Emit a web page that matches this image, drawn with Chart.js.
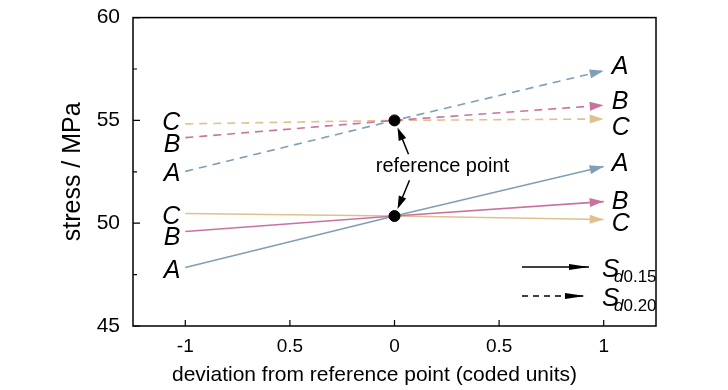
<!DOCTYPE html>
<html>
<head>
<meta charset="utf-8">
<script src="https://cdn.jsdelivr.net/npm/chart.js@4"></script>
<style>
  body { margin: 0; background: #fff; }
  canvas { display: block; }
</style>
</head>
<body>
<canvas id="stressChart" width="728" height="390"></canvas>
<script>
// Data
const xValues = [-1, 0, 1];
const seriesNames = ['A', 'B', 'C'];
const solidA = [47.85, 50.35, 52.76];
const solidB = [49.6, 50.35, 51.05];
const solidC = [50.47, 50.35, 50.18];
const dashedA = [52.52, 55.0, 57.42];
const dashedB = [54.16, 55.0, 55.74];
const dashedC = [54.83, 55.0, 55.07];
const refX = [0, 0];
const refY = [55.0, 50.35];
const xTickValues = [-1, -0.5, 0, 0.5, 1];
const xTickLabels = ['-1', '0.5', '0', '0.5', '1'];
const yTickValues = [45, 47.5, 50, 52.5, 55, 57.5, 60];
const legendLabels = ['0.15', '0.20'];
const xTitle = 'deviation from reference point (coded units)';

const FONT = '"Liberation Sans", Arial, sans-serif';
const colors = { A: '#7f9fb5', B: '#c8739f', C: '#e0c08e' };

// label nudges (px) so letters don't collide: [left, right]
const labelShift = {
  solidA: [4, -2], solidB: [7, 0], solidC: [4, 5],
  dashedA: [3, -4], dashedB: [7, -3], dashedC: [-1, 9]
};

function lineSet(key, name, values, dashed) {
  return {
    type: 'line',
    key: key,
    series: name,
    data: xValues.map((x, i) => ({ x: x, y: values[i] })),
    borderColor: colors[name],
    borderWidth: 1.6,
    borderDash: dashed ? [8, 6] : [],
    pointRadius: 0,
    fill: false,
    tension: 0,
    order: 1
  };
}

const datasets = [
  {
    type: 'scatter',
    data: refX.map((x, i) => ({ x: x, y: refY[i] })),
    pointRadius: 5.5,
    pointBackgroundColor: '#000',
    pointBorderColor: '#000',
    order: 0
  },
  lineSet('dashedA', 'A', dashedA, true),
  lineSet('dashedB', 'B', dashedB, true),
  lineSet('dashedC', 'C', dashedC, true),
  lineSet('solidA', 'A', solidA, false),
  lineSet('solidB', 'B', solidB, false),
  lineSet('solidC', 'C', solidC, false)
];

function arrowHead(ctx, fromX, fromY, tipX, tipY, len, half, color) {
  const ang = Math.atan2(tipY - fromY, tipX - fromX);
  ctx.fillStyle = color;
  ctx.beginPath();
  ctx.moveTo(tipX, tipY);
  ctx.lineTo(tipX - len * Math.cos(ang) + half * Math.sin(ang), tipY - len * Math.sin(ang) - half * Math.cos(ang));
  ctx.lineTo(tipX - len * Math.cos(ang) - half * Math.sin(ang), tipY - len * Math.sin(ang) + half * Math.cos(ang));
  ctx.closePath();
  ctx.fill();
}

const extras = {
  id: 'extras',
  afterDatasetsDraw(chart) {
    const { ctx, chartArea: a, scales: { x, y } } = chart;
    ctx.save();

    // frame + inward ticks
    ctx.strokeStyle = '#000';
    ctx.lineWidth = 1.5;
    ctx.setLineDash([]);
    ctx.strokeRect(a.left, a.top, a.right - a.left, a.bottom - a.top);
    ctx.lineWidth = 1.2;
    ctx.beginPath();
    yTickValues.forEach(v => {
      const py = y.getPixelForValue(v);
      ctx.moveTo(a.left, py);
      ctx.lineTo(a.left + (v % 5 === 0 ? 7 : 4), py);
    });
    xTickValues.forEach(v => {
      const px = x.getPixelForValue(v);
      ctx.moveTo(px, a.bottom);
      ctx.lineTo(px, a.bottom - 6);
    });
    ctx.stroke();

    // x axis title (sits a little left of centre in the original)
    ctx.fillStyle = '#000';
    ctx.font = '21px ' + FONT;
    ctx.textAlign = 'center';
    ctx.textBaseline = 'middle';
    ctx.fillText(xTitle, x.getPixelForValue(0) - 20, a.bottom + 49);

    // arrowheads and A/B/C labels
    chart.data.datasets.forEach((ds, i) => {
      if (!ds.series) return;
      const pts = chart.getDatasetMeta(i).data;
      const p0 = pts[0], p1 = pts[pts.length - 2], p2 = pts[pts.length - 1];
      arrowHead(ctx, p1.x, p1.y, p2.x, p2.y, 14, 4.5, ds.borderColor);
      const sh = labelShift[ds.key];
      ctx.fillStyle = '#000';
      ctx.font = 'italic 25px ' + FONT;
      ctx.textBaseline = 'middle';
      ctx.textAlign = 'right';
      ctx.fillText(ds.series, p0.x - 5, p0.y + sh[0]);
      ctx.textAlign = 'left';
      ctx.fillText(ds.series, p2.x + 8, p2.y + sh[1]);
    });

    // reference point annotation
    const px0 = x.getPixelForValue(refX[0]);
    const yTop = y.getPixelForValue(refY[0]);
    const yBot = y.getPixelForValue(refY[1]);
    const midY = (yTop + yBot) / 2;
    ctx.fillStyle = '#000';
    ctx.font = '20px ' + FONT;
    ctx.textAlign = 'center';
    ctx.textBaseline = 'middle';
    ctx.fillText('reference point', px0 + 48, midY - 2);
    ctx.strokeStyle = '#000';
    ctx.lineWidth = 1.5;
    ctx.beginPath();
    ctx.moveTo(px0 + 14, midY - 14);
    ctx.lineTo(px0 + 6, yTop + 14);
    ctx.moveTo(px0 + 15, midY + 12);
    ctx.lineTo(px0 + 6, yBot - 14);
    ctx.stroke();
    arrowHead(ctx, px0 + 14, midY - 14, px0 + 3, yTop + 7, 13, 4, '#000');
    arrowHead(ctx, px0 + 15, midY + 12, px0 + 3, yBot - 7, 13, 4, '#000');

    // legend (solid / dashed)
    const lx1 = a.right - 134, lx2 = a.right - 67;
    const rows = [a.bottom - 59, a.bottom - 30];
    rows.forEach((ly, r) => {
      ctx.strokeStyle = '#000';
      ctx.lineWidth = 1.5;
      ctx.setLineDash(r === 0 ? [] : [6, 5]);
      ctx.beginPath();
      ctx.moveTo(lx1, ly);
      ctx.lineTo(lx2 - (r === 0 ? 0 : 4), ly);
      ctx.stroke();
      ctx.setLineDash([]);
      arrowHead(ctx, lx1, ly, lx2 - (r === 0 ? 0 : 4), ly, 20, 3, '#000');
      ctx.fillStyle = '#000';
      ctx.textAlign = 'left';
      ctx.textBaseline = 'alphabetic';
      ctx.font = 'italic 26px ' + FONT;
      ctx.fillText('S', a.right - 54, ly + 10);
      ctx.font = 'italic 17px ' + FONT;
      ctx.fillText('d', a.right - 42, ly + 15);
      const dw = ctx.measureText('d').width;
      ctx.font = '17px ' + FONT;
      ctx.fillText(legendLabels[r], a.right - 42 + dw, ly + 15);
    });

    ctx.restore();
  }
};

new Chart(document.getElementById('stressChart'), {
  data: { datasets: datasets },
  options: {
    responsive: false,
    animation: false,
    layout: { padding: { left: 0, top: 13, right: 72, bottom: 0 } },
    plugins: { legend: { display: false }, tooltip: { enabled: false } },
    scales: {
      x: {
        type: 'linear',
        min: -1.25,
        max: 1.25,
        afterBuildTicks: s => { s.ticks = xTickValues.map(v => ({ value: v })); },
        afterFit: s => { s.height = 64; },
        grid: { display: false },
        border: { display: false },
        ticks: {
          autoSkip: false,
          maxRotation: 0,
          padding: 1,
          color: '#000',
          font: { family: FONT, size: 19 },
          callback: (v, i) => xTickLabels[i]
        },
        title: { display: false }
      },
      y: {
        type: 'linear',
        min: 45,
        max: 60,
        afterBuildTicks: s => { s.ticks = yTickValues.map(v => ({ value: v })); },
        afterFit: s => { s.width = 133; },
        grid: { display: false },
        border: { display: false },
        ticks: {
          padding: 5,
          color: '#000',
          font: { family: FONT, size: 21 },
          callback: v => (v % 5 === 0 ? String(v) : '')
        },
        title: {
          display: true,
          text: 'stress / MPa',
          color: '#000',
          font: { family: FONT, size: 25 },
          padding: { top: 58, bottom: 0 }
        }
      }
    }
  },
  plugins: [extras]
});
</script>
</body>
</html>
